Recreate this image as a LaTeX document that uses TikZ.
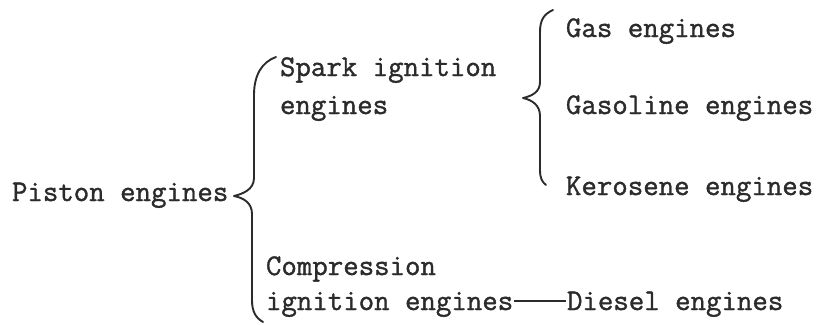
\documentclass[tikz,border=0pt]{standalone}
\usepackage{fontspec}
\newfontfamily\typewriter{Latin Modern Mono}[BoldFont={Latin Modern Mono},BoldFeatures={FakeBold=1.2}]
\usetikzlibrary{calc}
\definecolor{ink}{HTML}{2B2B2B}
\begin{document}
\begin{tikzpicture}[x=1pt,y=-1pt,
  lbl/.style={anchor=base west,inner sep=0pt,outer sep=0pt,text=ink,
    font=\fontsize{30}{30}\selectfont\typewriter\bfseries},
  bracepath/.style={draw=ink,line width=1.9pt,line cap=round,line join=round},
  dashline/.style={draw=ink,line width=2.6pt}]
\useasboundingbox[fill=white] (0,0) rectangle (824,324);
% texts
\node[lbl] (piston) at (12,201) {Piston engines};
\node[lbl] (spark1) at (280,76) {Spark ignition};
\node[lbl] (spark2) at (280,114) {engines};
\node[lbl] (comp1) at (266,275) {Compression};
\node[lbl] (comp2) at (266,310) {ignition engines};
\node[lbl] (gas) at (566,37) {Gas engines};
\node[lbl] (gasoline) at (566,114) {Gasoline engines};
\node[lbl] (kerosene) at (566,195) {Kerosene engines};
\node[lbl] (diesel) at (567,310) {Diesel engines};
% big brace
\path[bracepath] (276,57) .. controls (262,62) and (254,75) .. (254,95)
  -- (254,178) .. controls (254,190) and (242,194) .. (234,196)
  .. controls (244,198) and (252,203) .. (252,214)
  -- (252,300) .. controls (252,312) and (256,318) .. (263,322);
% small brace
\path[bracepath] (553,10) .. controls (544,14) and (540,20) .. (540,32)
  -- (540,82) .. controls (540,92) and (532,96) .. (523,98)
  .. controls (532,100) and (540,105) .. (540,116)
  -- (540,170) .. controls (540,178) and (542,182) .. (546,185);
% connector
\draw[dashline] ($(comp2.base east)+(1,-9)$) -- ($(diesel.base west)+(-1,-9)$);
\end{tikzpicture}
\end{document}
